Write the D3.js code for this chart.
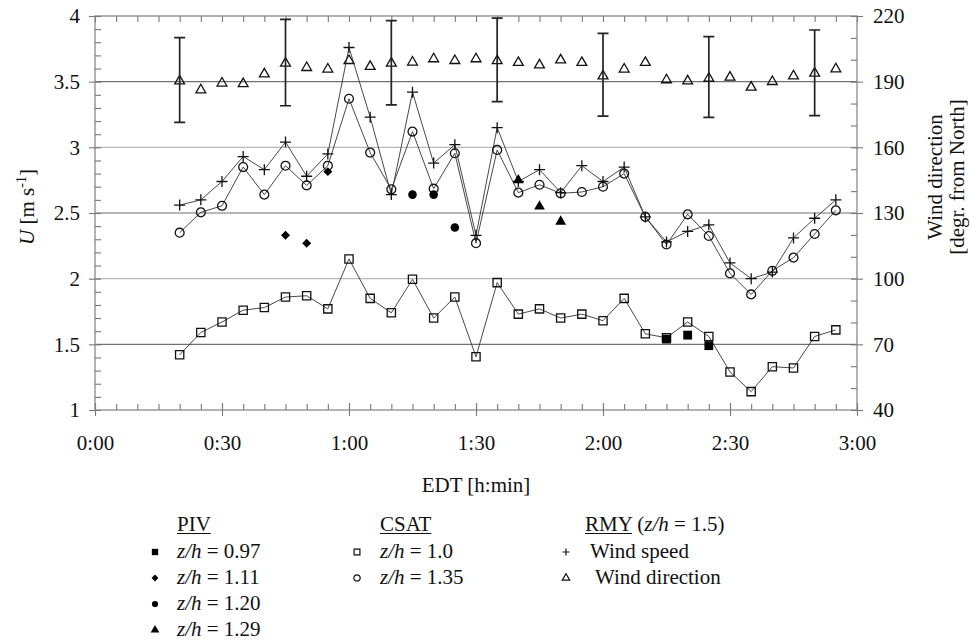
<!DOCTYPE html>
<html>
<head>
<meta charset="utf-8">
<script src="https://cdn.jsdelivr.net/npm/d3@7"></script>
<style>
  body { margin: 0; background: #fff; }
  svg { display: block; }
</style>
</head>
<body>
<svg id="chart" width="970" height="643"></svg>
<script>
// Sampling times, minutes after 0:00 EDT
const times = [20, 25, 30, 35, 40, 45, 50, 55, 60, 65, 70, 75, 80, 85, 90, 95,
               100, 105, 110, 115, 120, 125, 130, 135, 140, 145, 150, 155, 160, 165, 170, 175];

// RMY anemometer (z/h = 1.5): wind speed [m/s]
const rmySpeed = [2.56, 2.60, 2.74, 2.93, 2.83, 3.04, 2.78, 2.95, 3.76, 3.23, 2.64, 3.42, 2.88, 3.02, 2.33, 3.15,
                  2.74, 2.83, 2.655, 2.86, 2.74, 2.85, 2.47, 2.28, 2.36, 2.41, 2.12, 2.00, 2.05, 2.31, 2.46, 2.60];

// RMY anemometer: wind direction [degr. from North]
const rmyDir = [190.3, 186.2, 189.3, 189.0, 193.5, 198.4, 196.4, 195.7, 199.6, 196.9, 198.4, 198.9, 200.4, 199.6, 200.4, 199.5,
                198.7, 197.6, 199.9, 198.7, 192.6, 195.7, 198.7, 190.8, 190.3, 191.5, 192.0, 187.4, 190.0, 192.6, 193.8, 195.8];

// Wind direction spread shown as error bars
const dirErrTimes = [20, 45, 70, 95, 120, 145, 170];
const dirErrLow   = [171.4, 179.0, 179.4, 180.9, 174.3, 173.7, 174.5];
const dirErrHigh  = [210.1, 218.5, 217.9, 219.0, 212.1, 210.6, 213.6];

// CSAT sonic anemometers [m/s]
const csat100 = [1.42, 1.59, 1.67, 1.76, 1.78, 1.86, 1.87, 1.77, 2.15, 1.85, 1.74, 1.995, 1.70, 1.86, 1.405, 1.97,
                 1.73, 1.77, 1.70, 1.73, 1.68, 1.85, 1.58, 1.55, 1.67, 1.56, 1.29, 1.14, 1.33, 1.32, 1.56, 1.61];
const csat135 = [2.35, 2.505, 2.555, 2.85, 2.64, 2.86, 2.71, 2.86, 3.37, 2.96, 2.68, 3.12, 2.685, 2.955, 2.27, 2.98,
                 2.655, 2.715, 2.65, 2.66, 2.70, 2.80, 2.47, 2.26, 2.49, 2.325, 2.04, 1.88, 2.06, 2.16, 2.34, 2.52];

// PIV mean velocities at four heights [m/s]
const piv097Times = [135, 140, 145];  const piv097 = [1.54, 1.57, 1.49];
const piv111Times = [45, 50, 55];     const piv111 = [2.33, 2.27, 2.815];
const piv120Times = [75, 80, 85];     const piv120 = [2.64, 2.64, 2.39];
const piv129Times = [100, 105, 110];  const piv129 = [2.75, 2.55, 2.435];

// Axis ticks
const xTickValues = [0, 30, 60, 90, 120, 150, 180];
const xTickLabels = ['0:00', '0:30', '1:00', '1:30', '2:00', '2:30', '3:00'];
const uTickValues = [1, 1.5, 2, 2.5, 3, 3.5, 4];
const uTickLabels = ['1', '1.5', '2', '2.5', '3', '3.5', '4'];
const dirTickValues = [40, 70, 100, 130, 160, 190, 220];
const dirTickLabels = ['40', '70', '100', '130', '160', '190', '220'];
const gridValues = [1.5, 2, 2.5, 3, 3.5];

// ---------------------------------------------------------------------------
const SERIF = "'Liberation Serif', 'Times New Roman', serif";
const svg = d3.select('#chart');
const L = 95, R = 857, T = 16, B = 410;
const FS = 21;

const x  = d3.scaleLinear().domain([0, 180]).range([L, R]);
const yU = d3.scaleLinear().domain([1, 4]).range([B, T]);
const yD = d3.scaleLinear().domain([40, 220]).range([B, T]);

// horizontal grid
svg.append('g').selectAll('line').data(gridValues).join('line')
  .attr('x1', L).attr('x2', R)
  .attr('y1', d => yU(d)).attr('y2', d => yU(d))
  .attr('stroke', d => (d % 1 === 0.5) ? '#707070' : '#b8b8b8')
  .attr('stroke-width', 1.1);

function styleAxis(g, withText) {
  g.select('.domain').remove();
  g.selectAll('.tick line').attr('stroke', '#777').attr('stroke-width', 1.1);
  if (withText) g.selectAll('.tick text').attr('font-size', FS).attr('fill', '#111');
  else g.selectAll('.tick text').remove();
}

// minor ticks (inward)
svg.append('g').attr('transform', `translate(0,${B})`)
  .call(d3.axisBottom(x).ticks(36).tickSize(-6).tickFormat(''))
  .call(g => styleAxis(g, false));
svg.append('g').attr('transform', `translate(0,${T})`)
  .call(d3.axisTop(x).ticks(36).tickSize(-6).tickFormat(''))
  .call(g => styleAxis(g, false));
svg.append('g').attr('transform', `translate(${L},0)`)
  .call(d3.axisLeft(yU).ticks(30).tickSize(-6).tickFormat(''))
  .call(g => styleAxis(g, false));
svg.append('g').attr('transform', `translate(${R},0)`)
  .call(d3.axisRight(yD).ticks(18).tickSize(-6).tickFormat(''))
  .call(g => styleAxis(g, false));

// major ticks with labels
svg.append('g').attr('transform', `translate(0,${B})`)
  .call(d3.axisBottom(x).tickValues(xTickValues).tickFormat((d, i) => xTickLabels[i]).tickSize(6).tickPadding(19))
  .call(g => styleAxis(g, true))
  .call(g => g.selectAll('.tick text').attr('dy', '0.71em'));
svg.append('g').attr('transform', `translate(0,${B})`)
  .call(d3.axisBottom(x).tickValues(xTickValues).tickSize(-7).tickFormat(''))
  .call(g => styleAxis(g, false));
svg.append('g').attr('transform', `translate(${L},0)`)
  .call(d3.axisLeft(yU).tickValues(uTickValues).tickFormat((d, i) => uTickLabels[i]).tickSize(6).tickPadding(9))
  .call(g => styleAxis(g, true));
svg.append('g').attr('transform', `translate(${R},0)`)
  .call(d3.axisRight(yD).tickValues(dirTickValues).tickFormat((d, i) => dirTickLabels[i]).tickSize(6).tickPadding(10))
  .call(g => styleAxis(g, true));

// plot frame
svg.append('rect').attr('x', L).attr('y', T).attr('width', R - L).attr('height', B - T)
  .attr('fill', 'none').attr('stroke', '#808080').attr('stroke-width', 1.2);

// axis titles
svg.append('text').attr('transform', 'translate(34,207) rotate(-90)')
  .attr('text-anchor', 'middle').attr('font-size', FS)
  .call(t => {
    t.append('tspan').attr('font-style', 'italic').text('U');
    t.append('tspan').text(' [m s');
    t.append('tspan').attr('font-size', 14).attr('dy', -8).text('-1');
    t.append('tspan').attr('dy', 8).text(']');
  });
svg.append('text').attr('transform', 'translate(942,177) rotate(-90)')
  .attr('text-anchor', 'middle').attr('font-size', FS).text('Wind direction');
svg.append('text').attr('transform', 'translate(964,177) rotate(-90)')
  .attr('text-anchor', 'middle').attr('font-size', FS).text('[degr. from North]');
svg.append('text').attr('x', x(90)).attr('y', 492)
  .attr('text-anchor', 'middle').attr('font-size', FS).text('EDT [h:min]');

// ---------------------------------------------------------------------------
// series lines
const line = d3.line().x((d, i) => x(times[i])).y(d => yU(d));
const lines = svg.append('g').attr('fill', 'none').attr('stroke', '#333').attr('stroke-width', 0.9);
[csat100, csat135, rmySpeed].forEach(s => lines.append('path').attr('d', line(s)));

const plusPath = r => `M${-r},0H${r}M0,${-r}V${r}`;
const sq   = s => d3.symbol().type(d3.symbolSquare).size(s)();
const circ = s => d3.symbol().type(d3.symbolCircle).size(s)();
const tri  = s => d3.symbol().type(d3.symbolTriangle).size(s)();

function hollow(values, tms, yScale, path, width) {
  svg.append('g').selectAll('path').data(values).join('path')
    .attr('transform', (d, i) => `translate(${x(tms[i])},${yScale(d)})`)
    .attr('d', path).attr('fill', 'none').attr('stroke', '#111').attr('stroke-width', width);
}
function filled(values, tms, path, rot) {
  svg.append('g').selectAll('path').data(values).join('path')
    .attr('transform', (d, i) => `translate(${x(tms[i])},${yU(d)}) rotate(${rot || 0})`)
    .attr('d', path).attr('fill', '#000');
}

hollow(csat100, times, yU, sq(68), 1.3);
hollow(csat135, times, yU, circ(62), 1.3);
hollow(rmySpeed, times, yU, plusPath(5.5), 1.3);
hollow(rmyDir, times, yD, tri(42), 1.3);

// wind direction error bars
const eb = svg.append('g').attr('stroke', '#222').attr('stroke-width', 1.7).attr('fill', 'none');
dirErrTimes.forEach((t, i) => {
  const cx = x(t), y0 = yD(dirErrLow[i]), y1 = yD(dirErrHigh[i]);
  eb.append('path').attr('d', `M${cx},${y0}V${y1}M${cx - 5.5},${y0}H${cx + 5.5}M${cx - 5.5},${y1}H${cx + 5.5}`);
});

// PIV points
filled(piv097, piv097Times, sq(78));
filled(piv111, piv111Times, sq(40), 45);
filled(piv120, piv120Times, circ(58));
filled(piv129, piv129Times, tri(50));

// ---------------------------------------------------------------------------
// legend
const rowY = [558, 584, 610, 636];
const headY = 531;
const lg = svg.append('g').attr('font-size', FS);

function zhText(sel, value) {
  sel.append('tspan').attr('font-style', 'italic').text('z/h');
  sel.append('tspan').text(' = ' + value);
}
function header(xp, label, extra) {
  const t = lg.append('text').attr('x', xp).attr('y', headY).style('font-family', SERIF);
  const u = t.append('tspan').text(label);
  if (extra) extra(t);
  const w = u.node().getComputedTextLength();
  lg.append('line').attr('x1', xp).attr('x2', xp + w).attr('y1', headY + 2.5).attr('y2', headY + 2.5)
    .attr('stroke', '#111').attr('stroke-width', 1.1);
}

// PIV column
header(177, 'PIV');
const pivLegend = [
  { v: '0.97', d: sq(40), rot: 0 },
  { v: '1.11', d: sq(24), rot: 45 },
  { v: '1.20', d: circ(30), rot: 0 },
  { v: '1.29', d: tri(32), rot: 0 }
];
pivLegend.forEach((it, i) => {
  lg.append('path').attr('d', it.d).attr('fill', '#000')
    .attr('transform', `translate(155,${rowY[i] - 6}) rotate(${it.rot})`);
  lg.append('text').attr('x', 177).attr('y', rowY[i]).call(t => zhText(t, it.v));
});

// CSAT column
header(380, 'CSAT');
[{ v: '1.0', d: sq(34) }, { v: '1.35', d: circ(32) }].forEach((it, i) => {
  lg.append('path').attr('d', it.d).attr('fill', 'none').attr('stroke', '#111').attr('stroke-width', 1.2)
    .attr('transform', `translate(357,${rowY[i] - 6})`);
  lg.append('text').attr('x', 380).attr('y', rowY[i]).call(t => zhText(t, it.v));
});

// RMY column
header(585, 'RMY', t => {
  t.append('tspan').text(' (');
  t.append('tspan').attr('font-style', 'italic').text('z/h');
  t.append('tspan').text(' = 1.5)');
});
[{ label: 'Wind speed', d: plusPath(3.5), tx: 590 }, { label: 'Wind direction', d: tri(24), tx: 595 }].forEach((it, i) => {
  lg.append('path').attr('d', it.d).attr('fill', 'none').attr('stroke', '#111').attr('stroke-width', 1.2)
    .attr('transform', `translate(566,${rowY[i] - 6})`);
  lg.append('text').attr('x', it.tx).attr('y', rowY[i]).text(it.label);
});

// serif face and ink colour for every label
svg.selectAll('text').style('font-family', SERIF).style('fill', '#111');
// re-measure the header underlines now that the serif face is applied
lg.selectAll('line').remove();
lg.selectAll('text').filter(function () { return +this.getAttribute('y') === headY; }).each(function () {
  const first = this.firstChild;
  const xp = +this.getAttribute('x');
  const w = first.getComputedTextLength();
  lg.append('line').attr('x1', xp).attr('x2', xp + w).attr('y1', headY + 2.5).attr('y2', headY + 2.5)
    .attr('stroke', '#111').attr('stroke-width', 1.1);
});
</script>
</body>
</html>
